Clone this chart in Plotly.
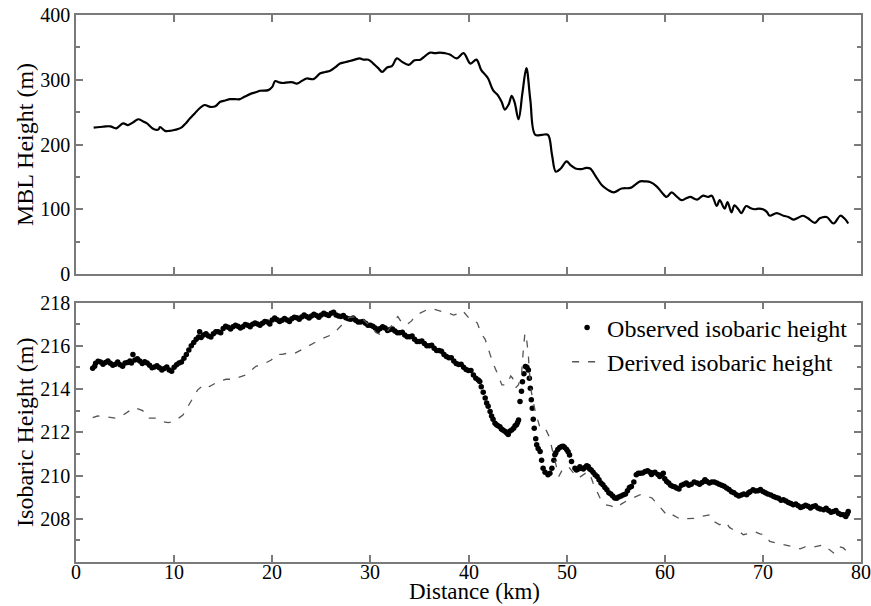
import plotly.graph_objects as go

# ---- Top panel: MBL height ----
mbl_km = [1.8, 2.45, 3.0, 3.5, 4.1, 4.8, 5.3, 5.8, 6.35, 6.8, 7.2, 7.9, 8.4, 8.56, 9.07, 9.5, 9.9,
          10.4, 10.8, 11.2, 11.6, 12.1, 12.6, 13.1, 13.7, 14.2, 14.7, 15.2, 15.7, 16.2, 16.7, 17.2,
          17.9, 18.4, 18.75, 19.6, 20.0, 20.3, 20.7, 21.1, 21.6, 22.1, 22.5, 23.0, 23.5, 24.2,
          24.9, 25.4, 25.9, 26.4, 26.9, 27.4, 27.9, 28.4, 28.9, 29.3, 29.8, 30.3, 30.8, 31.2,
          31.7, 32.2, 32.7, 33.2, 33.9, 34.5, 35.1, 35.6, 36.1, 36.6, 37.1, 37.6, 38.1, 38.8,
          39.5, 40.2, 40.8, 41.3, 41.7, 42.0, 42.5, 43.0, 43.4, 43.7, 44.1, 44.4, 44.7, 45.1,
          45.5, 45.9, 46.3, 46.8, 47.5, 48.1, 48.5, 48.9, 49.4, 50.0, 50.4, 50.9, 51.5, 52.0,
          52.4, 53.0, 53.6, 54.2, 54.8, 55.6, 56.5, 57.0, 57.5, 58.0, 58.5, 59.2, 59.7, 60.2,
          60.7, 61.2, 61.7, 62.2, 62.6, 63.3, 63.9, 64.4, 64.8, 65.3, 65.6, 66.1, 66.4, 66.8,
          67.1, 67.5, 67.8, 68.3, 68.7, 69.2, 69.6, 70.0, 70.4, 70.7, 71.4, 72.1, 72.6, 73.1,
          73.6, 74.1, 74.6, 75.3, 75.8, 76.5, 77.2, 77.9, 78.3, 78.7]
mbl_h = [226, 227, 228, 228, 225, 232.7, 230, 234, 239, 236, 233, 224, 223, 227, 221, 221, 222,
         224, 227, 233, 240, 248, 256, 261, 258, 259, 266, 268, 270, 270, 270, 274,
         279, 281, 283, 284, 289, 298, 296, 295, 296, 296, 294, 298, 302, 301,
         310, 312, 314, 319, 325, 327, 329, 331, 333, 331, 331, 325, 318, 312,
         319, 321, 333, 328, 323, 330, 331, 337, 342, 341, 342, 341, 339, 333,
         341, 325, 331, 315, 308, 302, 284, 276, 265, 254, 262, 275, 265, 239,
         280, 318, 269, 215, 215, 215, 185, 158, 163, 174, 168, 163, 162, 164,
         163, 150, 137, 130, 126, 132, 133, 138, 143, 143, 142, 135, 126, 119,
         126, 120, 114, 117, 119, 115, 121, 119, 121, 105, 114, 101, 111, 95,
         106, 100, 94, 105, 102, 100, 101, 100, 96, 90, 94, 90, 88, 84,
         87, 90, 86, 79, 86, 88, 78, 90, 86, 78]

# ---- Bottom panel: observed isobaric height (centre of band, then band scatter) ----
obs_km = [1.7, 2.0, 2.5, 3.0, 3.5, 4.0, 4.5, 5.0, 5.5, 5.8, 6.0, 6.5, 7.0, 7.5, 8.0, 8.5, 9.0, 9.5,
          10.0, 10.5, 11.0, 11.5, 12.0, 12.5, 13.0, 13.5, 14.0, 14.5, 15.0, 15.5, 16.0, 16.5,
          17.0, 17.5, 18.0, 18.5, 19.0, 19.5, 20.0, 20.5, 21.0, 21.5, 22.0, 22.5, 23.0, 23.5,
          24.0, 24.5, 25.0, 25.5, 26.0, 26.5, 27.0, 27.5, 28.0, 28.5, 29.0, 29.5, 30.0, 30.5,
          31.0, 31.5, 32.0, 32.5, 33.0, 33.5, 34.0, 34.5, 35.0, 35.5, 36.0, 36.5, 37.0, 37.5,
          38.0, 38.5, 39.0, 39.5, 40.0, 40.5, 41.0, 41.3, 41.7, 42.0, 42.2, 42.5, 42.7, 43.0,
          43.2, 43.5, 43.9, 44.2, 44.6, 44.9, 45.1, 45.25, 45.4, 45.5, 45.65, 45.8, 45.95, 46.1,
          46.2, 46.3, 46.4, 46.5, 46.6, 46.7, 46.85, 46.95, 47.1, 47.3, 47.45, 47.6, 47.8, 48.1,
          48.3, 48.5, 48.7, 48.8, 49.1, 49.5, 49.8, 50.0, 50.3, 50.5, 50.85, 51.2, 51.5, 51.9,
          52.2, 52.5, 52.9, 53.3, 53.7, 54.1, 54.5, 54.9, 55.3, 55.8, 56.2, 56.6, 57.1, 57.5,
          58.0, 58.5, 58.8, 59.3, 59.7, 60.0, 60.4, 60.8, 61.2, 61.7, 62.2, 62.7, 63.3, 63.8,
          64.3, 64.8, 65.3, 65.8, 66.3, 66.8, 67.3, 67.8, 68.35, 68.7, 69.0, 69.5, 70.0, 70.5,
          71.1, 71.6, 72.1, 72.6, 73.1, 73.6, 74.1, 74.6, 75.1, 75.6, 76.2, 76.7, 77.2, 77.7,
          78.2, 78.7,
          1.9, 2.25, 2.75, 3.25, 3.75, 4.25, 4.75, 5.25, 5.65, 6.25, 6.75, 7.25, 7.75, 8.25, 8.75,
          9.25, 9.75, 10.25, 10.75, 11.25, 11.75, 12.25, 12.6, 12.75, 13.25, 13.75, 14.25, 14.75,
          15.25, 15.75, 16.25, 16.75, 17.25, 17.75, 18.25, 18.75, 19.25, 19.75, 20.25, 20.75,
          21.25, 21.75, 22.25, 22.75, 23.25, 23.75, 24.25, 24.75, 25.25, 25.75, 26.25, 26.75,
          27.25, 27.75, 28.25, 28.75, 29.25, 29.75, 30.25, 30.75, 31.25, 31.75, 32.25, 32.75,
          33.25, 33.75, 34.25, 34.75, 35.25, 35.75, 36.25, 36.75, 37.25, 37.75, 38.25, 38.75,
          39.25, 39.75, 40.25, 40.75, 41.15, 41.5, 41.85, 42.35, 42.85, 43.35, 43.7, 44.05, 44.4,
          44.75, 45.0,
          48.9, 49.3, 49.65, 50.15, 51.0, 51.35, 51.7, 52.05, 52.35, 52.7, 53.1, 53.5, 53.9, 54.3,
          54.7, 55.1, 55.55, 56.0, 56.4, 56.85, 57.3, 57.75, 58.25, 58.65, 59.0, 59.5, 59.85, 60.2,
          60.6, 61.0, 61.45, 61.95, 62.45, 63.0, 63.55, 64.05, 64.55, 64.1, 65.05, 65.55, 66.05,
          66.55, 67.05, 67.55, 68.05, 68.55, 69.25, 69.75, 70.25, 70.8, 71.35, 71.85, 72.35, 72.85,
          73.35, 73.85, 74.35, 74.85, 75.35, 75.85, 76.45, 76.95, 77.45, 77.95, 78.45, 78.6]
obs_h = [214.96, 215.19, 215.25, 215.22, 215.19, 215.15, 215.12, 215.2, 215.3, 215.6, 215.34, 215.3,
         215.26, 215.1, 215.02, 214.98, 214.95, 214.88,
         215.0, 215.2, 215.42, 215.8, 216.15, 216.4, 216.5, 216.45, 216.55, 216.65, 216.8, 216.85,
         216.88, 216.9,
         216.88, 216.95, 216.99, 217.0, 217.04, 217.1, 217.19, 217.2, 217.18, 217.19, 217.25, 217.3,
         217.33, 217.35,
         217.38, 217.4, 217.42, 217.45, 217.5, 217.42, 217.35, 217.3, 217.22, 217.18, 217.1, 217.04,
         216.95, 216.82,
         216.8, 216.82, 216.75, 216.68, 216.6, 216.5, 216.42, 216.3, 216.2, 216.1, 216.0, 215.88,
         215.78, 215.6,
         215.45, 215.3, 215.13, 215.0, 214.85, 214.65, 214.42, 214.1, 213.58, 213.2, 212.96, 212.6,
         212.42, 212.3,
         212.26, 212.1, 211.96, 212.05, 212.19, 212.35, 212.57, 213.42, 213.9, 214.34, 214.7, 215.04,
         215.0, 214.88,
         214.5, 214.04, 213.5, 213.11, 212.6, 212.19, 211.7, 211.42, 211.25, 211.11, 210.7, 210.34,
         210.15, 210.03,
         210.1, 210.34, 210.7, 210.96, 211.2, 211.34, 211.3, 211.2, 210.95, 210.65, 210.34, 210.3,
         210.34, 210.38,
         210.42, 210.25, 210.03, 209.8, 209.57, 209.34, 209.15, 208.96, 209.0, 209.11, 209.3, 209.49,
         210.03, 210.1,
         210.19, 210.15, 210.11, 210.05, 210.03, 209.85, 209.65, 209.5, 209.42, 209.55, 209.65, 209.6,
         209.65, 209.68,
         209.72, 209.7, 209.65, 209.55, 209.42, 209.25, 209.11, 209.1, 209.11, 209.25, 209.34, 209.3,
         209.26, 209.15,
         209.03, 208.95, 208.88, 208.75, 208.65, 208.6, 208.57, 208.58, 208.57, 208.5, 208.42, 208.38,
         208.34, 208.25,
         208.18, 208.34,
         215.05, 215.28, 215.15, 215.3, 215.1, 215.25, 215.05, 215.22, 215.2, 215.4, 215.18, 215.2,
         214.98, 215.08, 214.88,
         215.02, 214.82, 215.12, 215.25, 215.6, 216.0, 216.3, 216.65, 216.38, 216.55, 216.4, 216.65,
         216.6,
         216.9, 216.78, 216.95, 216.82, 216.98, 216.88, 217.05, 216.95, 217.12, 217.0, 217.28, 217.12,
         217.26, 217.12, 217.32, 217.22, 217.42, 217.28, 217.46, 217.32, 217.5, 217.4, 217.55, 217.38,
         217.4, 217.25, 217.28, 217.1, 217.12, 216.95, 216.9, 216.7, 216.88, 216.7, 216.78, 216.6,
         216.62, 216.42, 216.45, 216.2, 216.22, 216.0, 216.02, 215.78, 215.75, 215.5, 215.45, 215.18,
         215.15, 214.9, 214.85, 214.5, 214.35, 213.85, 213.35, 212.75, 212.35, 212.15, 212.05, 211.9,
         212.1,
         212.3, 212.45,
         211.05, 211.3, 211.35, 211.1, 210.25, 210.4, 210.3, 210.45, 210.3, 210.15, 209.95, 209.65,
         209.45, 209.2,
         209.05, 208.95, 209.05, 209.15, 209.45, 209.7, 210.1, 210.12, 210.22, 210.05, 210.15, 209.95,
         210.1, 209.72,
         209.55, 209.48, 209.38, 209.6, 209.55, 209.7, 209.6, 209.75, 209.65, 209.8, 209.7, 209.6,
         209.5,
         209.35, 209.2, 209.05, 209.15, 209.2, 209.28, 209.35, 209.2, 209.1, 208.98, 208.85, 208.82,
         208.7,
         208.68, 208.52, 208.62, 208.5, 208.6, 208.45, 208.48, 208.3, 208.38, 208.2, 208.1, 208.22]

# ---- Bottom panel: derived isobaric height ----
der_km = [1.7, 2.2, 2.7, 3.4, 4.1, 4.8, 5.4, 5.95, 6.8, 7.3, 8.15, 8.8, 9.4, 10.0, 10.9, 11.7, 12.4,
          13.1, 13.6, 14.6, 15.3, 16.0, 16.6, 17.3, 18.3, 18.7, 19.3, 19.9, 20.4, 21.0, 21.5, 22.3,
          23.5, 24.5, 25.2, 26.0, 26.6, 27.1, 27.8, 28.5, 29.3, 30.0, 30.6, 31.1, 31.6, 32.2, 32.5,
          32.8, 33.3, 33.8, 34.2, 34.6, 35.2, 35.7, 36.2, 36.8, 37.4, 38.0, 38.5, 39.0, 39.4, 39.7,
          40.2, 40.6, 40.9, 41.3, 41.7, 42.2, 42.5, 43.0, 43.4, 43.9, 44.3, 44.5, 44.8, 45.1, 45.4,
          45.6, 45.75, 45.9, 46.1, 46.2, 46.4, 46.8, 47.3, 47.8, 48.3, 48.5, 48.9, 49.2, 49.65, 50.2,
          50.85, 51.2, 51.9, 52.3, 52.7, 53.4, 53.9, 54.5, 55.1, 55.6, 56.2, 56.8, 57.5, 58.1, 58.7,
          59.3, 59.8, 60.2, 60.5, 61.1, 61.7, 62.2, 62.8, 63.3, 63.6, 64.1, 64.6, 64.9, 65.3, 65.6,
          66.0, 66.3, 66.6, 67.0, 67.5, 68.0, 68.4, 68.7, 69.2, 69.7, 70.2, 70.7, 71.2, 71.7, 72.3,
          72.9, 73.4, 73.8, 74.3, 74.8, 75.2, 75.5, 76.2, 76.7, 77.2, 77.7, 78.2, 78.7]
der_h = [212.68, 212.75, 212.73, 212.7, 212.65, 212.8, 212.96, 213.14, 213.0, 212.65, 212.65, 212.49,
         212.45, 212.5, 212.8, 213.42, 213.96,
         214.22, 214.11, 214.37, 214.45, 214.45, 214.53, 214.65, 215.04, 215.1, 215.2, 215.34, 215.6,
         215.6, 215.65, 215.65,
         215.96, 216.19, 216.35, 216.5, 216.73, 216.96, 217.3, 217.35, 217.2, 216.9, 216.6, 216.5,
         216.6, 216.95, 217.2,
         217.35, 217.0, 217.0, 217.15, 217.4, 217.55, 217.65, 217.72, 217.65, 217.6, 217.5, 217.42,
         217.5, 217.62, 217.45,
         217.2, 217.15, 217.05, 216.55, 216.3, 215.6, 215.2, 214.65, 214.19, 214.2, 214.6, 214.5,
         214.05, 214.2, 214.65,
         215.88, 216.58, 216.4, 215.57, 214.8, 213.88, 212.96, 212.19, 212.2, 211.73, 211.26, 210.5,
         209.96, 210.34, 210.4,
         210.03, 209.88, 210.1, 210.15, 209.65, 208.96, 208.65, 208.6, 208.49, 208.69, 208.85, 208.96,
         209.11, 209.05, 208.96,
         208.65, 208.4, 208.18, 208.26, 208.1, 207.95, 208.0, 208.0, 208.03, 208.1, 208.15, 208.18,
         207.9, 207.8, 207.72,
         207.85, 207.8, 207.6, 207.49, 207.45, 207.26, 207.3, 207.34, 207.4, 207.3, 207.26, 206.95,
         206.9, 206.84, 206.8,
         206.72, 206.65, 206.61, 206.7, 206.65, 206.7, 206.72, 206.8, 206.6, 206.42, 206.72, 206.65,
         206.42]

x_ticks = [0, 10, 20, 30, 40, 50, 60, 70, 80]
mbl_ticks = [0, 100, 200, 300, 400]
iso_ticks = [208, 210, 212, 214, 216, 218]

FONT = "'Liberation Serif', 'Times New Roman', Times, serif"
AX = "#7a7a7a"

fig = go.Figure()
fig.add_trace(go.Scatter(x=mbl_km, y=mbl_h, mode="lines",
                         line=dict(color="black", width=2.2, shape="spline", smoothing=1.0),
                         showlegend=False, xaxis="x", yaxis="y"))
fig.add_trace(go.Scatter(x=obs_km, y=obs_h, mode="markers", name="Observed isobaric height",
                         marker=dict(color="black", size=5.5), xaxis="x2", yaxis="y2"))
fig.add_trace(go.Scatter(x=der_km, y=der_h, mode="lines", name="Derived isobaric height",
                         line=dict(color="#555555", width=1.3, dash="7px,9px"),
                         xaxis="x2", yaxis="y2"))

common_x = dict(range=[0, 80], tickvals=x_ticks, ticks="inside", ticklen=7, tickwidth=1.5,
                tickcolor=AX, showline=True, linecolor=AX, linewidth=1.5, mirror="ticks",
                showgrid=False, zeroline=False, automargin=False, showticklabels=False)
common_y = dict(ticks="inside", ticklen=7, tickwidth=1.5, tickcolor=AX, showline=True,
                linecolor=AX, linewidth=1.5, mirror="ticks", showgrid=False, zeroline=False,
                automargin=False)

# x tick labels of the lower panel, placed on the lower x axis scale
annotations = [dict(text=str(v), xref="x2", yref="paper", x=v, y=-0.0185,
                    xanchor="center", yanchor="middle", showarrow=False,
                    font=dict(size=20, family=FONT)) for v in x_ticks]
annotations.append(dict(text="Distance (km)", xref="paper", yref="paper", x=0.508, y=-0.0545,
                        xanchor="center", yanchor="middle", showarrow=False,
                        font=dict(size=23, family=FONT)))

fig.update_layout(
    width=871, height=606,
    margin=dict(l=76, r=10, t=15, b=44),
    paper_bgcolor="white", plot_bgcolor="white",
    font=dict(family=FONT, size=20, color="black"),
    xaxis=dict(domain=[0, 1], anchor="y", **common_x),
    yaxis=dict(domain=[0.5265, 1], anchor="x", range=[0, 400], tickvals=mbl_ticks,
               minor=dict(dtick=50, ticks="inside", ticklen=4, tickcolor=AX),
               title=dict(text="MBL Height (m)", font=dict(size=24), standoff=0),
               **common_y),
    xaxis2=dict(domain=[0, 1], anchor="y2", **common_x),
    yaxis2=dict(domain=[0, 0.4744], anchor="x2", range=[206, 218], tickvals=iso_ticks,
                minor=dict(dtick=1, ticks="inside", ticklen=4, tickcolor=AX),
                title=dict(text="Isobaric Height (m)", font=dict(size=24), standoff=0),
                **common_y),
    legend=dict(x=0.6256, y=0.469, xanchor="left", yanchor="top", bgcolor="rgba(0,0,0,0)",
                font=dict(size=24), tracegroupgap=0),
    annotations=annotations,
)

fig.write_html("out.html", config={"displayModeBar": False},
               post_script="document.body.style.margin='0';document.body.style.padding='0';")
